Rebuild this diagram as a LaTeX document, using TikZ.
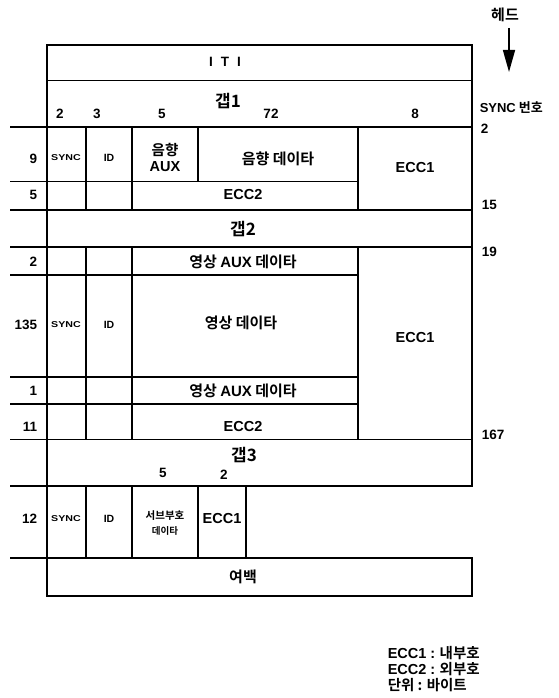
\documentclass[tikz,border=0pt]{standalone}
\usepackage{fontspec}
\setmainfont{Liberation Sans}
\newfontfamily\kr[BoldFont={Noto Sans CJK KR Bold}]{Noto Sans CJK KR}
\newfontfamily\lat{Liberation Sans}
\usetikzlibrary{arrows.meta}
\begin{document}
\begin{tikzpicture}[x=1pt,y=-1pt,line width=1.5pt,line cap=rect,
  num/.style={font=\bfseries\fontsize{13.5}{13.5}\selectfont,inner sep=0pt},
  rnum/.style={num,anchor=east},
  snum/.style={num,anchor=west},
  ecc/.style={font=\bfseries\fontsize{14.5}{14.5}\selectfont,inner sep=0pt},
  ko/.style={font=\kr\bfseries\fontsize{15}{15}\selectfont,inner sep=0pt},
  gap/.style={font=\kr\bfseries\fontsize{17}{17}\selectfont,inner sep=0pt},
  tiny/.style={font=\bfseries\fontsize{8.5}{8.5}\selectfont,inner sep=0pt,xscale=1.25},
  idt/.style={font=\bfseries\fontsize{10.5}{10.5}\selectfont,inner sep=0pt},
  leg/.style={font=\kr\bfseries\fontsize{14.5}{14.5}\selectfont,inner sep=0pt,anchor=west}]
\useasboundingbox (0,0) rectangle (558,698);
% ---- frame lines ----
\draw (47,45) -- (472,45);
\draw (47,80.5) -- (472,80.5);
\draw (47,45) -- (47,596);
\draw (472,45) -- (472,486);
\draw (47,596) -- (472,596) -- (472,558);
\foreach \y in {127,210,247,439.5,486,558} \draw (11,\y) -- (472,\y);
\foreach \y in {181.5,275,377,404} \draw (11,\y) -- (358,\y);
\foreach \x in {86,132,358} {\draw (\x,127) -- (\x,210); \draw (\x,247) -- (\x,439.5);}
\draw (198,127) -- (198,181.5);
\foreach \x in {86,132,198,246} \draw (\x,486) -- (\x,558);
% ---- head arrow ----
\node[ko] (head) at (505,15) {헤드};
\coordinate (headtip) at (509,72);
\draw[line cap=butt,-{Triangle[width=12pt,length=22pt]}] (509,28) -- (headtip);
% ---- top ----
\node[num] (iti) at (225,62) {I\hspace{0.6em}T\hspace{0.6em}I};
\node[gap] (gap1) at (228,101) {갭1};
\node[num] (c2) at (60,114) {2};
\node[num] (c3) at (97,114) {3};
\node[num] (c5) at (162,114) {5};
\node[num] (c72) at (271,114) {72};
\node[num] (c8) at (415,114) {8};
\node[font=\kr\bfseries\fontsize{13}{13}\selectfont,inner sep=0pt,anchor=west] (syncno) at (479,108) {{\lat SYNC} 번호};
\node[snum] (s2) at (480,129) {2};
\node[snum] (s15) at (481,205) {15};
\node[snum] (s19) at (481,252) {19};
\node[snum] (s167) at (481,435) {167};
% ---- audio section ----
\node[rnum] (r9) at (38,159) {9};
\node[tiny] (sy1) at (66,158) {SYNC};
\node[idt] (id1) at (109,158) {ID};
\node[ko,align=center,font=\kr\bfseries\fontsize{14.5}{16}\selectfont] (aaux) at (165,157) {음향\\{\lat AUX}};
\node[ko] (adata) at (278,159) {음향 데이타};
\node[ecc] (ecc1a) at (415,168) {ECC1};
\node[rnum] (r5) at (38,195) {5};
\node[ecc] (ecc2a) at (243,195) {ECC2};
\node[gap] (gap2) at (243,229) {갭2};
% ---- video section ----
\node[rnum] (r2) at (38,262) {2};
\node[ko] (vaux1) at (243,262) {영상 {\lat AUX} 데이타};
\node[rnum] (r135) at (38,325) {135};
\node[tiny] (sy2) at (66,325) {SYNC};
\node[idt] (id2) at (109,325) {ID};
\node[ko] (vdata) at (241,323) {영상 데이타};
\node[ecc] (ecc1b) at (415,338) {ECC1};
\node[rnum] (r1) at (38,391) {1};
\node[ko] (vaux2) at (243,391) {영상 {\lat AUX} 데이타};
\node[rnum] (r11) at (38,427) {11};
\node[ecc] (ecc2b) at (243,427) {ECC2};
% ---- subcode section ----
\node[gap] (gap3) at (244,455) {갭3};
\node[num] (d5) at (163,473) {5};
\node[num] (d2) at (224,475) {2};
\node[rnum] (r12) at (38,519) {12};
\node[tiny] (sy3) at (66,519) {SYNC};
\node[idt] (id3) at (109,519) {ID};
\node[ko,font=\kr\bfseries\fontsize{10.5}{10.5}\selectfont] (sub1) at (165,516) {서브부호};
\node[ko,font=\kr\bfseries\fontsize{9.5}{9.5}\selectfont] (sub2) at (165,531) {데이타};
\node[ecc] (ecc1c) at (222,519) {ECC1};
\node[ko] (blank) at (243,577) {여백};
% ---- legend ----
\node[leg] (leg1) at (387,653) {{\lat ECC1 :} 내부호};
\node[leg] (leg2) at (387,669) {{\lat ECC2 :} 외부호};
\node[leg] (leg3) at (387,685) {단위 : 바이트};
\end{tikzpicture}
\end{document}
